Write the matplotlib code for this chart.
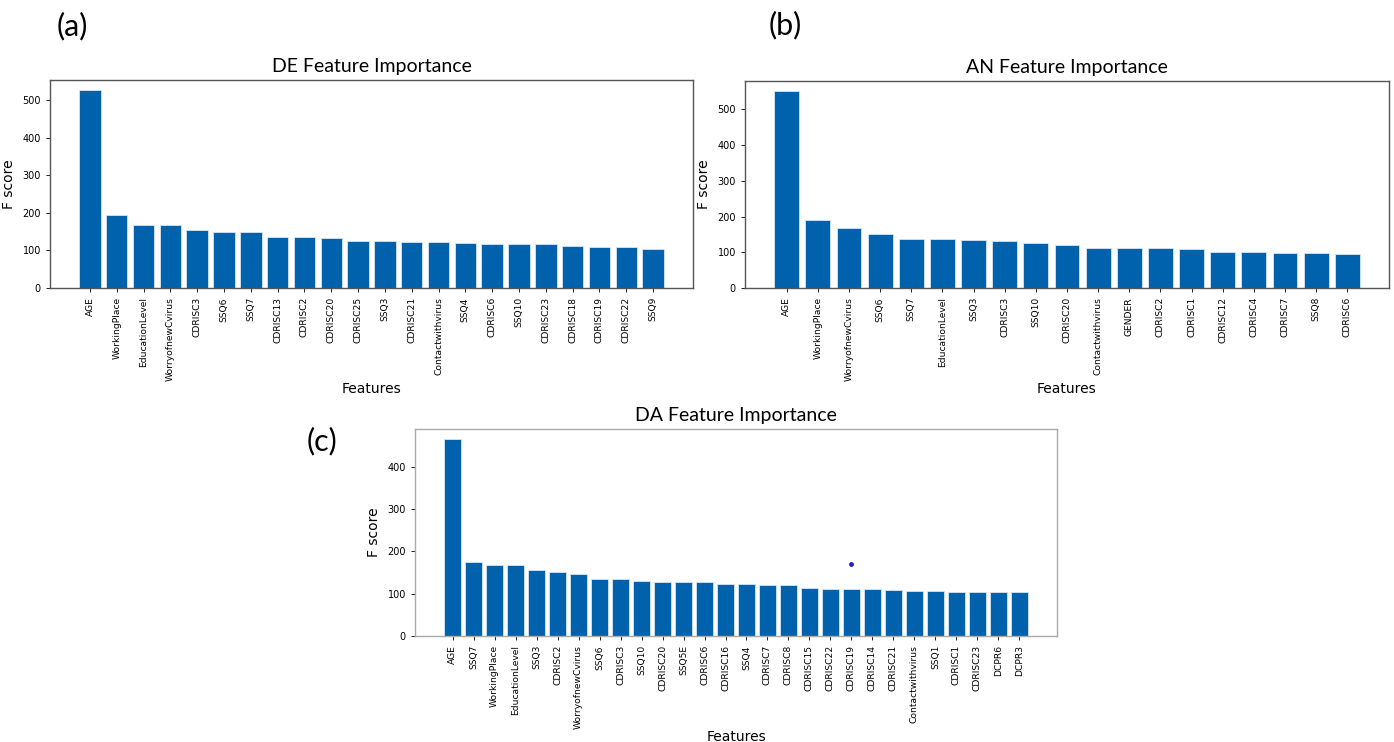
import matplotlib
matplotlib.use('Agg')
from matplotlib import pyplot as plt

# DE panel
de_features = ['AGE', 'WorkingPlace', 'EducationLevel', 'WorryofnewCvirus', 'CDRISC3',
               'SSQ6', 'SSQ7', 'CDRISC13', 'CDRISC2', 'CDRISC20', 'CDRISC25', 'SSQ3',
               'CDRISC21', 'Contactwithvirus', 'SSQ4', 'CDRISC6', 'SSQ10', 'CDRISC23',
               'CDRISC18', 'CDRISC19', 'CDRISC22', 'SSQ9']
de_scores = [527, 195, 168, 167, 155, 150, 150, 136, 136, 134, 125, 125,
             123, 122, 119, 117, 116, 116, 111, 110, 108, 104]

# AN panel
an_features = ['AGE', 'WorkingPlace', 'WorryofnewCvirus', 'SSQ6', 'SSQ7', 'EducationLevel',
               'SSQ3', 'CDRISC3', 'SSQ10', 'CDRISC20', 'Contactwithvirus', 'GENDER',
               'CDRISC2', 'CDRISC1', 'CDRISC12', 'CDRISC4', 'CDRISC7', 'SSQ8', 'CDRISC6']
an_scores = [552, 190, 168, 150, 137, 137, 135, 131, 125, 121, 113, 113,
             113, 109, 100, 100, 97, 97, 94]

# DA panel
da_features = ['AGE', 'SSQ7', 'WorkingPlace', 'EducationLevel', 'SSQ3', 'CDRISC2',
               'WorryofnewCvirus', 'SSQ6', 'CDRISC3', 'SSQ10', 'CDRISC20', 'SSQ5E',
               'CDRISC6', 'CDRISC16', 'SSQ4', 'CDRISC7', 'CDRISC8', 'CDRISC15',
               'CDRISC22', 'CDRISC19', 'CDRISC14', 'CDRISC21', 'Contactwithvirus',
               'SSQ1', 'CDRISC1', 'CDRISC23', 'DCPR6', 'DCPR3']
da_scores = [466, 175, 169, 169, 155, 152, 147, 134, 134, 130, 128, 128,
             128, 124, 124, 120, 120, 114, 112, 110, 110, 109, 106,
             106, 105, 105, 105, 103]

# stray dot seen inside the DA plot
da_dot_feature = 'CDRISC19'
da_dot_score = 170

barColor = '#0062ad'
W, H = 1394, 742


def px_axes(fig, left, top, right, bottom):
    return fig.add_axes([left / W, 1 - bottom / H, (right - left) / W, (bottom - top) / H])


def drawPanel(ax, features, scores, title, frameColor):
    ax.bar(features, scores, width=0.8, color=barColor,
           edgecolor='#d6e6f5', linewidth=0.6)
    ax.set_title(title, fontsize=14, family='Lato', pad=6)
    ax.set_xlabel('Features', fontsize=10, labelpad=1)
    ax.set_ylabel('F score', fontsize=10, labelpad=5)
    ax.tick_params(axis='x', labelrotation=90, labelsize=6.6, length=3, width=0.6)
    ax.tick_params(axis='y', labelsize=7, length=3, width=0.6)
    for sp in ax.spines.values():
        sp.set_color(frameColor)
        sp.set_linewidth(1.0)


fig = plt.figure(figsize=(W / 100, H / 100), dpi=100)

ax1 = px_axes(fig, 50, 80, 693, 288)
drawPanel(ax1, de_features, de_scores, 'DE Feature Importance', '#555555')

ax2 = px_axes(fig, 745, 81, 1389, 288)
drawPanel(ax2, an_features, an_scores, 'AN Feature Importance', '#555555')

ax3 = px_axes(fig, 415, 429, 1057, 636)
drawPanel(ax3, da_features, da_scores, 'DA Feature Importance', '#aaaaaa')
ax3.plot([da_dot_feature], [da_dot_score], 'o', color='#2222cc', markersize=2.5)

fig.text(72 / W, 1 - 26 / H, '(a)', fontsize=22, family='Lato', ha='center', va='center')
fig.text(785 / W, 1 - 25 / H, '(b)', fontsize=22, family='Lato', ha='center', va='center')
fig.text(322 / W, 1 - 441 / H, '(c)', fontsize=22, family='Lato', ha='center', va='center')

fig.savefig('out.png', dpi=100, facecolor='white')
plt.close()
